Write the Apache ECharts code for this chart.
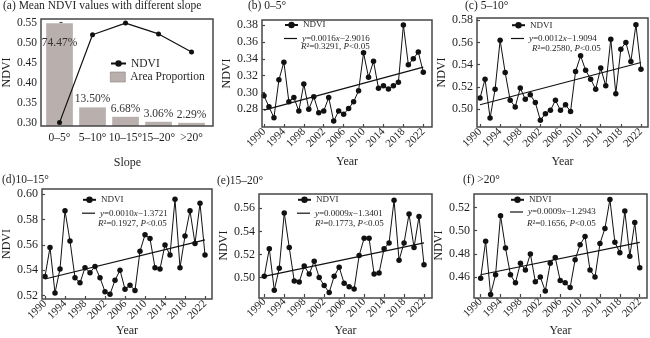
<!DOCTYPE html>
<html><head><meta charset="utf-8">
<script src="https://cdn.jsdelivr.net/npm/echarts@6/dist/echarts.min.js"></script>
<style>html,body{margin:0;padding:0;background:#fff}#c{width:650px;height:338px}</style>
</head><body><div id="c"></div>
<script>
// ---------------- DATA ----------------
const slopeCats = ['0–5°', '5–10°', '10–15°', '15–20°', '>20°'];
const slopeNdvi = [0.301, 0.520, 0.549, 0.522, 0.477];
const areaPct = [74.47, 13.50, 6.68, 3.06, 2.29];
const slopeTicks = [0.30, 0.35, 0.40, 0.45, 0.50, 0.55];

const years = [1990,1991,1992,1993,1994,1995,1996,1997,1998,1999,2000,2001,2002,2003,2004,2005,2006,2007,2008,2009,2010,2011,2012,2013,2014,2015,2016,2017,2018,2019,2020,2021,2022];
const yearTicks = [1990, 1994, 1998, 2002, 2006, 2010, 2014, 2018, 2022];

const ndvi_0_5   = [0.296,0.283,0.270,0.315,0.336,0.289,0.294,0.278,0.310,0.280,0.295,0.276,0.278,0.294,0.266,0.278,0.274,0.281,0.289,0.302,0.347,0.318,0.337,0.305,0.308,0.304,0.308,0.312,0.380,0.333,0.340,0.348,0.324];
const ndvi_5_10  = [0.510,0.527,0.492,0.518,0.562,0.533,0.508,0.502,0.519,0.509,0.513,0.506,0.490,0.496,0.499,0.508,0.499,0.504,0.498,0.534,0.548,0.535,0.527,0.518,0.537,0.521,0.563,0.514,0.554,0.560,0.543,0.576,0.536];
const ndvi_10_15 = [0.535,0.558,0.522,0.541,0.587,0.563,0.534,0.530,0.542,0.538,0.543,0.534,0.523,0.521,0.532,0.540,0.525,0.528,0.524,0.555,0.568,0.565,0.542,0.541,0.560,0.552,0.596,0.542,0.567,0.587,0.561,0.593,0.552];
const ndvi_15_20 = [0.501,0.525,0.489,0.508,0.556,0.526,0.497,0.496,0.510,0.503,0.514,0.500,0.493,0.487,0.501,0.509,0.495,0.492,0.490,0.519,0.534,0.534,0.503,0.504,0.525,0.530,0.567,0.515,0.530,0.555,0.526,0.553,0.511];
const ndvi_gt20  = [0.459,0.491,0.445,0.462,0.513,0.485,0.462,0.455,0.472,0.466,0.480,0.456,0.460,0.448,0.472,0.477,0.457,0.455,0.451,0.475,0.488,0.495,0.466,0.460,0.489,0.502,0.527,0.490,0.481,0.517,0.478,0.507,0.468];

// fitted trend line values at 1990 and 2022
const trend_0_5   = [0.279, 0.330];
const trend_5_10  = [0.504, 0.542];
const trend_10_15 = [0.533, 0.564];
const trend_15_20 = [0.501, 0.530];
const trend_gt20  = [0.462, 0.490];

const eq_0_5   = ['{i|y}=0.0016{i|x}−2.9016', '{i|R}²=0.3291, {i|P}<0.05'];
const eq_5_10  = ['{i|y}=0.0012{i|x}−1.9094', '{i|R}²=0.2580, {i|P}<0.05'];
const eq_10_15 = ['{i|y}=0.0010{i|x}−1.3721', '{i|R}²=0.1927, {i|P}<0.05'];
const eq_15_20 = ['{i|y}=0.0009{i|x}−1.3401', '{i|R}²=0.1773, {i|P}<0.05'];
const eq_gt20  = ['{i|y}=0.0009{i|x}−1.2943', '{i|R}²=0.1656, {i|P}<0.05'];

const ticks_0_5   = [0.28, 0.30, 0.32, 0.34, 0.36, 0.38];
const ticks_5_10  = [0.50, 0.52, 0.54, 0.56, 0.58];
const ticks_10_15 = [0.52, 0.54, 0.56, 0.58, 0.60];
const ticks_15_20 = [0.50, 0.52, 0.54, 0.56];
const ticks_gt20  = [0.46, 0.48, 0.50, 0.52];

// ---------------- LAYOUT / STYLE ----------------
const FONT = "'Liberation Serif', 'Times New Roman', serif";
const INK = '#1f1f1f';
const FRAME = '#474747';
const BAR = '#b9b0ad';

const gridA = {left:41, top:19, width:172, height:107};
const panels = [
  {title:'(b) 0–5°', vals:ndvi_0_5, trend:trend_0_5, eq:eq_0_5, ticks:ticks_0_5,
   grid:{left:262, top:20, width:170, height:107}, x:[1989.6, 2023.75], y:[0.259, 0.386],
   tpos:[248, 0], icon:284, ndviY:24.5, eqY:38, r2:[301, 47], yearGap:29},
  {title:'(c) 5–10°', vals:ndvi_5_10, trend:trend_5_10, eq:eq_5_10, ticks:ticks_5_10,
   grid:{left:477, top:18, width:171, height:109}, x:[1989.4, 2023.4], y:[0.484, 0.582],
   tpos:[465, 0], icon:511, ndviY:24.7, eqY:38, r2:[532, 49], yearGap:29},
  {title:'(d)10–15°', vals:ndvi_10_15, trend:trend_10_15, eq:eq_10_15, ticks:ticks_10_15,
   grid:{left:42, top:189, width:170, height:110}, x:[1989.4, 2023.4], y:[0.5172, 0.6042],
   tpos:[2, 174], icon:82, ndviY:199.3, eqY:212.7, r2:[98, 223.7], yearGap:22},
  {title:'(e)15–20°', vals:ndvi_15_20, trend:trend_15_20, eq:eq_15_20, ticks:ticks_15_20,
   grid:{left:259, top:194, width:173, height:104}, x:[1988.94, 2023.6], y:[0.4831, 0.5724],
   tpos:[217, 175], icon:297, ndviY:199.3, eqY:212.7, r2:[315, 223.7], yearGap:28},
  {title:'(f) >20°', vals:ndvi_gt20, trend:trend_gt20, eq:eq_gt20, ticks:ticks_gt20,
   grid:{left:474, top:194, width:173, height:104}, x:[1988.66, 2023.46], y:[0.4428, 0.5317],
   tpos:[463, 174], icon:510, ndviY:199.3, eqY:211.5, r2:[527, 223.7], yearGap:28}
];

const richI = {i:{fontStyle:'italic', fontFamily:FONT, fontSize:9, color:INK}};

const option = {
  animation:false,
  backgroundColor:'#fff',
  textStyle:{fontFamily:FONT, color:INK},
  title:[], grid:[], xAxis:[], yAxis:[], series:[], legend:[],
  graphic:{elements:[]}
};

// plot-area frame (the box around each panel)
function frame(g) {
  option.graphic.elements.push({type:'rect', silent:true, z:100,
    shape:{x:Math.round(g.left), y:Math.round(g.top), width:Math.round(g.width), height:Math.round(g.height)},
    style:{fill:'rgba(0,0,0,0)', stroke:FRAME, lineWidth:1.5}});
}

// ---------- Panel (a) ----------
option.title.push({text:'(a) Mean NDVI values with different slope', left:3, top:0, padding:0,
  textStyle:{fontFamily:FONT, fontSize:11.5, fontWeight:'normal', color:INK}});
option.grid.push(Object.assign({show:false}, gridA));
frame(gridA);
option.xAxis.push({gridIndex:0, type:'value', min:-0.53, max:4.65, position:'bottom',
  splitLine:{show:false}, axisLine:{show:false},
  axisTick:{show:true, inside:true, length:3, customValues:[0,1,2,3,4], lineStyle:{color:FRAME, width:1.2}},
  axisLabel:{customValues:[0,1,2,3,4], formatter:v => slopeCats[Math.round(v)], fontSize:11.5, color:INK, margin:6, fontFamily:FONT},
  name:'Slope', nameLocation:'middle', nameGap:31, nameTextStyle:{fontSize:12, color:INK, fontFamily:FONT}});
option.yAxis.push({gridIndex:0, type:'value', min:0.2925, max:0.5592, position:'left',
  splitLine:{show:false}, axisLine:{show:false},
  axisTick:{show:true, inside:true, length:3, customValues:slopeTicks, lineStyle:{color:FRAME, width:1.2}},
  axisLabel:{customValues:slopeTicks, formatter:v => v.toFixed(2), fontSize:11.5, color:INK, margin:5, fontFamily:FONT},
  name:'NDVI', nameLocation:'middle', nameGap:27, nameTextStyle:{fontSize:12, color:INK, fontFamily:FONT}});
option.yAxis.push({gridIndex:0, type:'value', min:0, max:77.6, show:false});
option.series.push({type:'bar', name:'Area Proportion', xAxisIndex:0, yAxisIndex:1, barWidth:26.7,
  itemStyle:{color:BAR},
  label:{show:true, position:'top', distance:2, fontSize:11.5, color:'#333', fontFamily:FONT,
    formatter:p => p.value[1].toFixed(2) + '%'},
  data: areaPct.map((v, i) => i === 0 ? {value:[i, v], label:{position:'insideTop', distance:14}} : [i, v]),
  z:2});
option.series.push({type:'line', name:'NDVI', xAxisIndex:0, yAxisIndex:0,
  data: slopeNdvi.map((v, i) => [i, v]),
  symbol:'circle', symbolSize:5, color:'#111', lineStyle:{color:'#111', width:1.2}, itemStyle:{color:'#111'}, z:3});
option.legend.push({data:['NDVI'], left:110, top:57.5, padding:0, itemWidth:15, itemHeight:8, selectedMode:false,
  textStyle:{fontSize:11.5, color:INK, fontFamily:FONT}});
option.legend.push({data:[{name:'Area Proportion', icon:'rect'}], left:110, top:71, padding:0, itemWidth:15, itemHeight:10, selectedMode:false,
  itemStyle:{borderColor:'#8a817e', borderWidth:0.6},
  textStyle:{fontSize:11.5, color:INK, fontFamily:FONT}});

// ---------- Panels (b)-(f) ----------
panels.forEach((p, k) => {
  const gi = k + 1;
  option.title.push({text:p.title, left:p.tpos[0], top:p.tpos[1], padding:0,
    textStyle:{fontFamily:FONT, fontSize:11.5, fontWeight:'normal', color:INK}});
  option.title.push({text:p.eq[1], left:p.r2[0], top:p.r2[1] - 4.5, padding:0,
    textStyle:{fontFamily:FONT, fontSize:9, fontWeight:'normal', color:INK, rich:richI}});
  option.grid.push(Object.assign({show:false}, p.grid));
  frame(p.grid);
  option.xAxis.push({gridIndex:gi, type:'value', min:p.x[0], max:p.x[1], position:'bottom',
    splitLine:{show:false}, axisLine:{show:false},
    axisTick:{show:true, inside:true, length:3, customValues:yearTicks, lineStyle:{color:FRAME, width:1.2}},
    axisLabel:{customValues:yearTicks, formatter:v => String(v), rotate:45, fontSize:11, color:INK, margin:3, fontFamily:FONT},
    name:'Year', nameLocation:'middle', nameGap:p.yearGap, nameTextStyle:{fontSize:12, color:INK, fontFamily:FONT}});
  option.yAxis.push({gridIndex:gi, type:'value', min:p.y[0], max:p.y[1], position:'left',
    splitLine:{show:false}, axisLine:{show:false},
    axisTick:{show:true, inside:true, length:3, customValues:p.ticks, lineStyle:{color:FRAME, width:1.2}},
    axisLabel:{customValues:p.ticks, formatter:v => v.toFixed(2), fontSize:12, color:INK, margin:4, fontFamily:FONT},
    name:'NDVI', nameLocation:'middle', nameGap:28, nameTextStyle:{fontSize:12, color:INK, fontFamily:FONT}});
  const yi = option.yAxis.length - 1;
  option.series.push({type:'line', name:'NDVI', xAxisIndex:gi, yAxisIndex:yi,
    data: years.map((y, i) => [y, p.vals[i]]),
    symbol:'circle', symbolSize:5.5, color:'#111', lineStyle:{color:'#111', width:1}, itemStyle:{color:'#111'}, z:3});
  const tname = 'trend' + gi;
  option.series.push({type:'line', name:tname, xAxisIndex:gi, yAxisIndex:yi,
    data: [[years[0], p.trend[0]], [years[years.length - 1], p.trend[1]]],
    symbol:'none', color:'#111', lineStyle:{color:'#111', width:1.2}, z:4});
  option.legend.push({data:['NDVI'], left:p.icon, top:p.ndviY - 4, padding:0, itemWidth:13, itemHeight:8, selectedMode:false,
    textStyle:{fontSize:9, color:INK, fontFamily:FONT}});
  option.legend.push({data:[{name:tname, icon:'rect'}], left:p.icon, top:p.eqY - 4, padding:0, itemWidth:13, itemHeight:1.2, selectedMode:false,
    formatter:() => p.eq[0],
    textStyle:{fontSize:9, color:INK, fontFamily:FONT, rich:richI}});
});

const chart = echarts.init(document.getElementById('c'), null, {renderer:'canvas'});
chart.setOption(option);
</script>
</body></html>
